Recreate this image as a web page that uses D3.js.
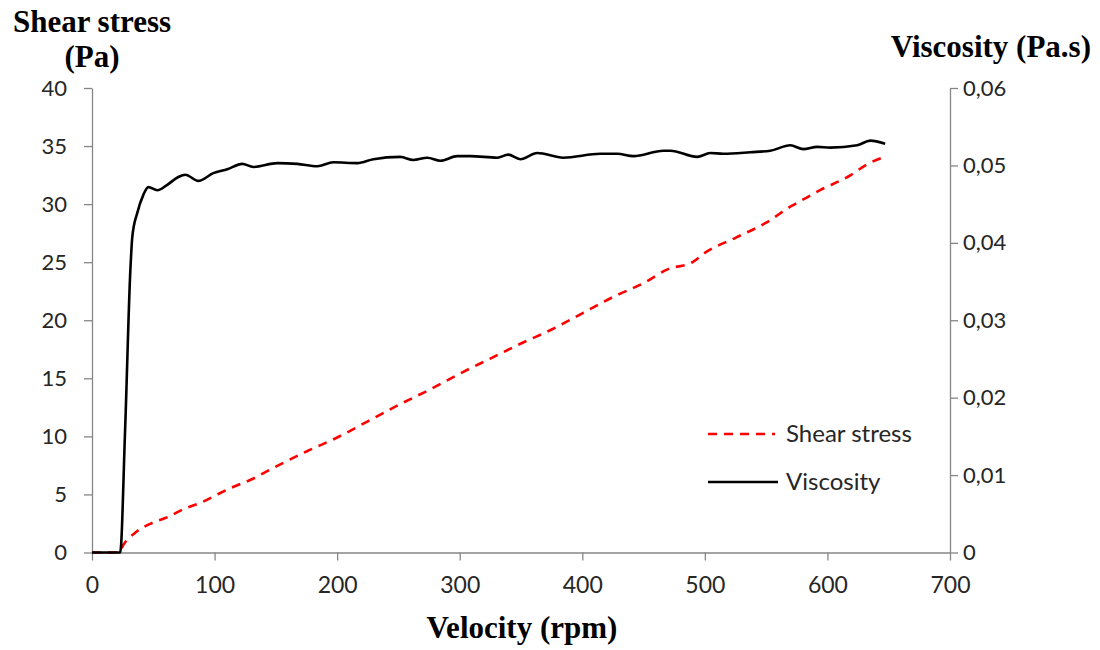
<!DOCTYPE html>
<html lang="en">
<head>
<meta charset="UTF-8">
<title>Shear stress and viscosity vs velocity</title>
<script src="https://d3js.org/d3.v7.min.js"></script>
<style>
    body { margin: 0; background: #fff; }
    svg { display: block; }
    .tick-label { font-family: Lato, "Open Sans", sans-serif; font-size: 22px; fill: #262626; }
    .title { font-family: "Liberation Serif", "Times New Roman", serif; font-weight: bold; font-size: 31px; fill: #000; }
    .legend-text { font-family: Lato, "Open Sans", sans-serif; font-size: 24px; fill: #262626; }
</style>
</head>
<body>
<script>
// shear stress (Pa) against velocity (rpm)
const stressRpm = [0, 10, 22, 25.5, 35, 49, 62, 75, 90, 103, 115, 129, 150, 175, 200, 225, 250, 275, 300, 325, 350, 375, 400, 425, 450, 470, 490, 500, 525, 550, 570, 582, 594, 619, 632, 647];
const stressPa  = [0, 0, 0, 0.65, 1.68, 2.54, 3.06, 3.75, 4.35, 5.04, 5.64, 6.24, 7.4, 8.7, 9.9, 11.3, 12.7, 14.0, 15.4, 16.7, 18.0, 19.2, 20.6, 22.0, 23.2, 24.4, 25.0, 25.8, 27.1, 28.4, 29.8, 30.5, 31.2, 32.5, 33.4, 34.1];

// viscosity (Pa.s) against velocity (rpm)
const viscRpm = [0, 10, 23, 27, 31.3, 32.9, 37, 41.9, 46, 53.3, 61.4, 70.4, 76.1, 86.7, 99, 110.4, 122.6, 131.6, 151.2, 167.5, 183.8, 196.9, 216.5, 229.5, 251.5, 262.1, 273.6, 284.2, 298, 308.6, 330.7, 339.6, 349.4, 363.3, 384.5, 414.7, 428.6, 441.6, 466.1, 471.8, 493.8, 504.4, 515, 537.1, 553.4, 569.7, 580.3, 591.7, 602.3, 624.3, 634.9, 647.1];
const viscPas = [0, 0, 0, 0.0158, 0.0365, 0.0408, 0.0439, 0.0462, 0.0472, 0.0468, 0.0475, 0.0485, 0.0488, 0.0480, 0.0490, 0.0495, 0.0502, 0.0498, 0.0503, 0.0502, 0.0499, 0.0504, 0.0503, 0.0508, 0.0511, 0.0507, 0.0510, 0.0506, 0.0512, 0.0512, 0.0510, 0.0514, 0.0508, 0.0516, 0.0510, 0.0515, 0.0515, 0.0512, 0.0519, 0.0519, 0.0511, 0.0516, 0.0515, 0.0517, 0.0519, 0.0526, 0.0521, 0.0524, 0.0523, 0.0526, 0.0532, 0.0528];

const xTicks = [0, 100, 200, 300, 400, 500, 600, 700];
const leftTicks = [0, 5, 10, 15, 20, 25, 30, 35, 40];
const rightTicks = [0, 0.01, 0.02, 0.03, 0.04, 0.05, 0.06];

const W = 1100, H = 650;
const plot = { left: 92, right: 950, top: 88, bottom: 552.5 };
const axisColor = "#868686";

const svg = d3.select("body").append("svg")
    .attr("width", W)
    .attr("height", H);

const x = d3.scaleLinear().domain([0, 700]).range([plot.left, plot.right]);
const yL = d3.scaleLinear().domain([0, 40]).range([plot.bottom, plot.top]);
const yR = d3.scaleLinear().domain([0, 0.06]).range([plot.bottom, plot.top]);

const commaFmt = d => d === 0 ? "0" : d3.format(".2f")(d).replace(".", ",");

function styleAxis(g) {
    g.select(".domain").attr("stroke", axisColor).attr("stroke-width", 1.3);
    g.selectAll(".tick line").attr("stroke", axisColor).attr("stroke-width", 1.3);
    g.selectAll(".tick text").attr("class", "tick-label").attr("fill", null);
}

// axes
const gx = svg.append("g")
    .attr("transform", `translate(0,${plot.bottom})`)
    .call(d3.axisBottom(x).tickValues(xTicks).tickSize(8).tickSizeOuter(0).tickPadding(16))
    .call(styleAxis);
gx.selectAll(".tick text").style("font-size", "23px");

svg.append("g")
    .attr("transform", `translate(${plot.left},0)`)
    .call(d3.axisLeft(yL).tickValues(leftTicks).tickSize(8).tickSizeOuter(0).tickPadding(17))
    .call(styleAxis);

svg.append("g")
    .attr("transform", `translate(${plot.right},0)`)
    .call(d3.axisRight(yR).tickValues(rightTicks).tickFormat(commaFmt).tickSize(8).tickSizeOuter(0).tickPadding(5))
    .call(styleAxis);

// series
const stressData = stressRpm.map((r, i) => ({ r, v: stressPa[i] }));
const viscData = viscRpm.map((r, i) => ({ r, v: viscPas[i] }));

svg.append("path")
    .datum(stressData)
    .attr("fill", "none")
    .attr("stroke", "#ff0000")
    .attr("stroke-width", 2.6)
    .attr("stroke-dasharray", "9,7")
    .attr("d", d3.line().x(d => x(d.r)).y(d => yL(d.v)).curve(d3.curveMonotoneX));

svg.append("path")
    .datum(viscData)
    .attr("fill", "none")
    .attr("stroke", "#000")
    .attr("stroke-width", 2.6)
    .attr("stroke-linejoin", "round")
    .attr("d", d3.line().x(d => x(d.r)).y(d => yR(d.v)).curve(d3.curveMonotoneX));

// titles
svg.append("text").attr("class", "title")
    .attr("x", 92).attr("y", 32).attr("text-anchor", "middle")
    .text("Shear stress");
svg.append("text").attr("class", "title")
    .attr("x", 92).attr("y", 67).attr("text-anchor", "middle")
    .text("(Pa)");
svg.append("text").attr("class", "title")
    .attr("x", 1091).attr("y", 57).attr("text-anchor", "end")
    .text("Viscosity (Pa.s)");
svg.append("text").attr("class", "title")
    .attr("x", 522).attr("y", 638).attr("text-anchor", "middle")
    .text("Velocity (rpm)");

// legend
const legend = svg.append("g");
legend.append("line")
    .attr("x1", 708).attr("x2", 775).attr("y1", 434).attr("y2", 434)
    .attr("stroke", "#ff0000").attr("stroke-width", 2.6).attr("stroke-dasharray", "9,7");
legend.append("text").attr("class", "legend-text")
    .attr("x", 786).attr("y", 442).text("Shear stress");
legend.append("line")
    .attr("x1", 708).attr("x2", 778).attr("y1", 482).attr("y2", 482)
    .attr("stroke", "#000").attr("stroke-width", 2.6);
legend.append("text").attr("class", "legend-text")
    .attr("x", 786).attr("y", 490).text("Viscosity");
</script>
</body>
</html>
